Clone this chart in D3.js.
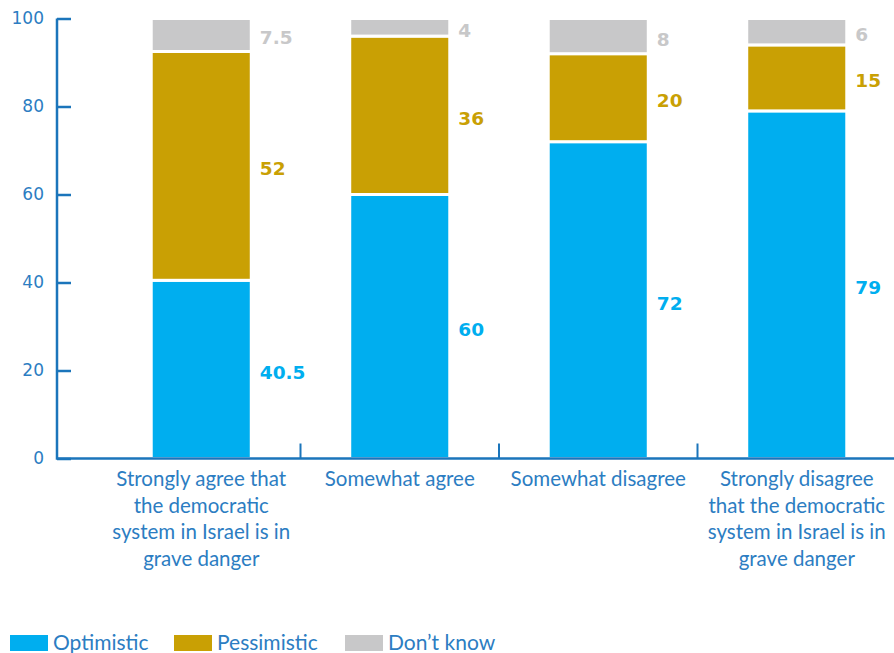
<!DOCTYPE html>
<html>
<head>
<meta charset="utf-8">
<script src="https://cdn.jsdelivr.net/npm/d3@7"></script>
<style>
  html, body { margin: 0; padding: 0; background: #fff; }
  svg { display: block; }
</style>
</head>
<body>
<svg id="chart" width="894" height="653"></svg>
<script>
// Survey responses by level of agreement that democracy is in grave danger
const categories = [
  "Strongly agree that\nthe democratic\nsystem in Israel is in\ngrave danger",
  "Somewhat agree",
  "Somewhat disagree",
  "Strongly disagree\nthat the democratic\nsystem in Israel is in\ngrave danger"
];
const seriesNames = ["Optimistic", "Pessimistic", "Don\u2019t know"];
const optimistic  = [40.5, 60, 72, 79];
const pessimistic = [52, 36, 20, 15];
const dontKnow    = [7.5, 4, 8, 6];
const yTicks = [0, 20, 40, 60, 80, 100];

const colors = ["#00AEEF", "#C9A004", "#C8C8C9"];
const labelColors = ["#00AEEF", "#C9A004", "#C8C8C9"];
const axisColor = "#1B75BB";
const textColor = "#2C7DC2";

const svg = d3.select("#chart");

const x = d3.scaleBand()
  .domain(categories)
  .range([102, 896])
  .paddingInner(0.496)
  .paddingOuter(0.248);

const y = d3.scaleLinear().domain([0, 100]).range([458.5, 18.5]);

// Build stacked data
const table = categories.map((c, i) => ({
  cat: c,
  "Optimistic": optimistic[i],
  "Pessimistic": pessimistic[i],
  "Don\u2019t know": dontKnow[i]
}));
const stacked = d3.stack().keys(seriesNames)(table);

// Bars
const layers = svg.append("g").selectAll("g")
  .data(stacked)
  .join("g")
  .attr("fill", (d, i) => colors[i]);

layers.selectAll("rect")
  .data(d => d)
  .join("rect")
  .attr("x", d => x(d.data.cat))
  .attr("width", x.bandwidth())
  .attr("y", d => y(d[1]))
  .attr("height", d => y(d[0]) - y(d[1]))
  .attr("stroke", "#fff")
  .attr("stroke-width", 3);

// Value labels to the right of each segment
stacked.forEach((layer, si) => {
  svg.append("g").selectAll("text")
    .data(layer)
    .join("text")
    .attr("x", d => x(d.data.cat) + x.bandwidth() + 8.5)
    .attr("y", d => (y(d[0]) + y(d[1])) / 2 + 3)
    .attr("dy", "0.35em")
    .attr("fill", labelColors[si])
    .style("font-family", "'DejaVu Sans', Verdana, sans-serif")
    .style("font-weight", "bold")
    .style("font-size", "18.5px")
    .text(d => d[1] - d[0]);
});

// Y axis with inward ticks
const yAxis = d3.axisLeft(y)
  .tickValues(yTicks)
  .tickSizeInner(-14)
  .tickSizeOuter(0)
  .tickPadding(13);
const gy = svg.append("g")
  .attr("transform", "translate(57,0)")
  .call(yAxis);
gy.select(".domain").attr("stroke", axisColor).attr("stroke-width", 2.5)
  .attr("d", `M0,${y(100)}V${y(0) + 1.25}`);
gy.selectAll(".tick line").attr("stroke", axisColor).attr("stroke-width", 2.5);
gy.selectAll(".tick text")
  .attr("fill", textColor)
  .style("font-family", "'DejaVu Sans', Verdana, sans-serif")
  .style("font-size", "17px");

// X axis line with separators between categories
const gx = svg.append("g");
gx.append("line")
  .attr("x1", 57).attr("x2", 894)
  .attr("y1", y(0)).attr("y2", y(0))
  .attr("stroke", axisColor).attr("stroke-width", 2.5);
const seps = categories.slice(1).map(c => x(c) - x.step() * x.paddingInner() / 2);
gx.selectAll("line.sep")
  .data(seps)
  .join("line")
  .attr("class", "sep")
  .attr("x1", d => d).attr("x2", d => d)
  .attr("y1", y(0)).attr("y2", y(0) - 15)
  .attr("stroke", axisColor).attr("stroke-width", 2);

// Category labels
const catLabels = svg.append("g").selectAll("text")
  .data(categories)
  .join("text")
  .attr("x", d => x(d) + x.bandwidth() / 2)
  .attr("y", 486)
  .attr("text-anchor", "middle")
  .attr("fill", textColor)
  .style("font-family", "Lato, 'Open Sans', sans-serif")
  .style("font-size", "20.5px");
catLabels.selectAll("tspan")
  .data(d => d.split("\n"))
  .join("tspan")
  .attr("x", function () { return d3.select(this.parentNode).attr("x"); })
  .attr("dy", (d, i) => i === 0 ? 0 : 26.6)
  .text(d => d);

// Legend
const legendX = [10, 174, 345];
const legend = svg.append("g").selectAll("g")
  .data(seriesNames)
  .join("g")
  .attr("transform", (d, i) => `translate(${legendX[i]},635)`);
legend.append("rect")
  .attr("width", 38).attr("height", 16)
  .attr("fill", (d, i) => colors[i]);
legend.append("text")
  .attr("x", 43).attr("y", 15)
  .attr("fill", textColor)
  .style("font-family", "Lato, 'Open Sans', sans-serif")
  .style("font-size", "21px")
  .text(d => d);
</script>
</body>
</html>
